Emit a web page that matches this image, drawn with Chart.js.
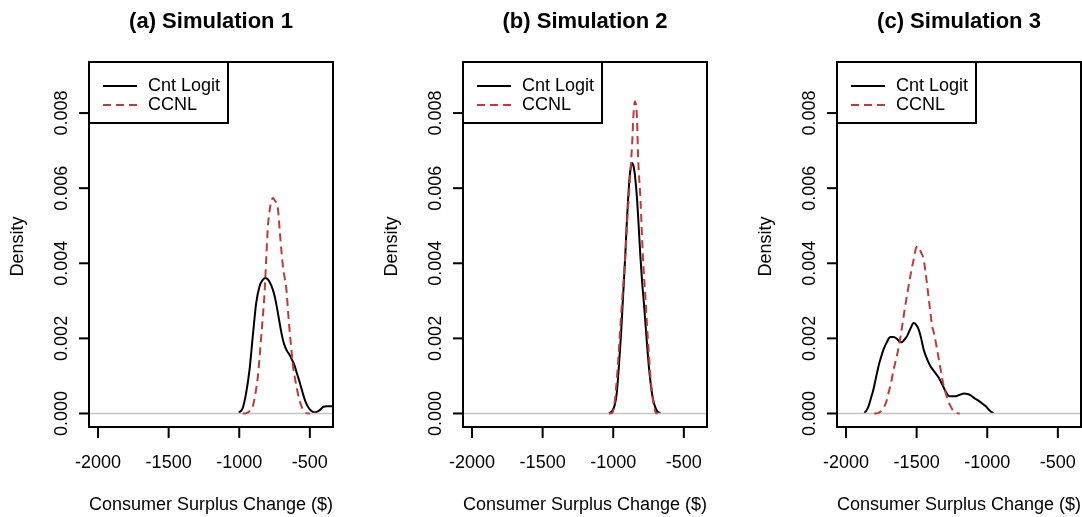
<!DOCTYPE html>
<html>
<head>
<meta charset="utf-8">
<script src="https://cdn.jsdelivr.net/npm/chart.js"></script>
<style>
  body { margin: 0; background: #fff; width: 1082px; height: 517px; overflow: hidden; position: relative; }
  canvas { position: absolute; top: 0; }
</style>
</head>
<body>
<canvas id="simA" width="374" height="517" style="left:0px"></canvas>
<canvas id="simB" width="374" height="517" style="left:374px"></canvas>
<canvas id="simC" width="374" height="517" style="left:748px"></canvas>

<script>
    // axis ticks, same for the three panels
    var xTicks = [-2000, -1500, -1000, -500];
    var yTicks = [0, 0.002, 0.004, 0.006, 0.008];
    var seriesNames = ['Cnt Logit', 'CCNL'];
    var panelTitles = ['(a) Simulation 1', '(b) Simulation 2', '(c) Simulation 3'];

    // density curves, [x, density]
    var logitA = [[-1003,0.00002],[-975,0.00015],[-951,0.00055],[-927,0.00117],[-904,0.00206],[-880,0.00294],
        [-856,0.00339],[-835,0.00355],[-816,0.00361],[-800,0.00358],[-785,0.00350],[-767,0.00335],[-749,0.00312],
        [-731,0.00278],[-714,0.00241],[-700,0.00212],[-685,0.00188],[-664,0.00168],[-642,0.00155],[-625,0.00142],
        [-607,0.00126],[-590,0.00105],[-571,0.00082],[-553,0.00058],[-536,0.00037],[-518,0.00021],[-500,0.00011],
        [-482,0.00005],[-465,0.00003],[-447,0.00005],[-429,0.00009],[-405,0.00018],[-380,0.00019],[-345,0.00019],[-320,0.00019]];
    var ccnlA = [[-975,0],[-951,0.00001],[-928,0.00006],[-904,0.00019],[-886,0.00052],[-868,0.00099],[-856,0.00150],
        [-844,0.00206],[-832,0.00262],[-820,0.00325],[-808,0.00420],[-797,0.00498],[-785,0.00540],[-773,0.00565],
        [-761,0.00574],[-749,0.00568],[-737,0.00560],[-726,0.00545],[-714,0.00490],[-702,0.00436],[-690,0.00390],
        [-678,0.00360],[-666,0.00330],[-654,0.00270],[-642,0.00215],[-630,0.00168],[-619,0.00126],[-607,0.00097],
        [-595,0.00073],[-577,0.00040],[-559,0.00019],[-541,0.00006],[-524,0.00001],[-500,0]];

    var logitB = [[-1031,0],[-1010,0.00005],[-990,0.00022],[-975,0.00055],[-960,0.00126],[-945,0.00210],[-935,0.00280],
        [-925,0.00348],[-915,0.00420],[-905,0.00500],[-895,0.00569],[-885,0.00625],[-875,0.00657],[-866,0.00667],
        [-857,0.00660],[-848,0.00640],[-840,0.00610],[-831,0.00569],[-820,0.00500],[-808,0.00420],[-795,0.00348],
        [-782,0.00290],[-770,0.00230],[-760,0.00180],[-748,0.00126],[-735,0.00080],[-725,0.00052],[-712,0.00028],
        [-695,0.00010],[-680,0.00003],[-665,0]];
    var ccnlB = [[-1030,0],[-1008,0.00001],[-990,0.00030],[-973,0.00099],[-955,0.00200],[-937,0.00303],[-913,0.00427],
        [-900,0.00520],[-885,0.00605],[-866,0.00720],[-856,0.00800],[-847,0.00831],[-838,0.00820],[-831,0.00780],
        [-824,0.00684],[-807,0.00569],[-790,0.00418],[-771,0.00303],[-760,0.00230],[-748,0.00161],[-737,0.00100],
        [-725,0.00055],[-712,0.00020],[-700,0.00003],[-685,0]];

    var logitC = [[-1870,0.00001],[-1855,0.00008],[-1841,0.00019],[-1824,0.00040],[-1806,0.00064],[-1788,0.00095],
        [-1770,0.00126],[-1752,0.00150],[-1735,0.00170],[-1711,0.00190],[-1687,0.00204],[-1664,0.00204],[-1640,0.00199],
        [-1622,0.00192],[-1604,0.00190],[-1586,0.00197],[-1568,0.00206],[-1545,0.00225],[-1521,0.00241],[-1503,0.00236],
        [-1485,0.00223],[-1468,0.00200],[-1450,0.00170],[-1426,0.00145],[-1402,0.00126],[-1372,0.00110],[-1343,0.00095],
        [-1325,0.00082],[-1307,0.00068],[-1289,0.00055],[-1271,0.00046],[-1247,0.00046],[-1224,0.00046],[-1194,0.00050],
        [-1164,0.00053],[-1140,0.00052],[-1117,0.00048],[-1088,0.00040],[-1058,0.00033],[-1034,0.00026],[-1010,0.00019],
        [-988,0.00010],[-967,0.00003],[-955,0]];
    var ccnlC = [[-1800,0],[-1775,0.00001],[-1755,0.00005],[-1734,0.00015],[-1716,0.00030],[-1699,0.00055],[-1681,0.00082],
        [-1663,0.00117],[-1645,0.00145],[-1628,0.00175],[-1610,0.00215],[-1592,0.00259],[-1575,0.00300],[-1557,0.00339],
        [-1538,0.00380],[-1521,0.00410],[-1505,0.00440],[-1490,0.00445],[-1470,0.00430],[-1450,0.00410],[-1435,0.00370],
        [-1419,0.00321],[-1403,0.00270],[-1390,0.00232],[-1378,0.00215],[-1355,0.00170],[-1330,0.00117],[-1312,0.00080],
        [-1295,0.00055],[-1277,0.00033],[-1259,0.00019],[-1240,0.00007],[-1212,0.00001],[-1195,0]];

    var FONT = '"Liberation Sans", Arial, sans-serif';
    var RED = '#c03a3a';
    var DASH = [8, 5];

    function pts(arr) {
        return arr.map(function (p) { return { x: p[0], y: p[1] }; });
    }

    function seg(ctx, x1, y1, x2, y2) {
        ctx.beginPath();
        ctx.moveTo(x1, y1);
        ctx.lineTo(x2, y2);
        ctx.stroke();
    }

    // R style frame: box, ticks, labels, titles and legend
    var rFrame = {
        id: 'rFrame',
        afterDraw: function (chart, args, opts) {
            var ctx = chart.ctx, a = chart.chartArea;
            var xs = chart.scales.x, ys = chart.scales.y;
            ctx.save();
            ctx.strokeStyle = '#000';
            ctx.fillStyle = '#000';
            ctx.lineWidth = 2;
            ctx.strokeRect(a.left, a.top, a.right - a.left, a.bottom - a.top);

            ctx.font = '18px ' + FONT;
            ctx.textAlign = 'center';
            ctx.textBaseline = 'middle';
            xTicks.forEach(function (v) {
                var px = xs.getPixelForValue(v);
                seg(ctx, px, a.bottom, px, a.bottom + 11);
                ctx.fillText(String(v), px, a.bottom + 36);
            });
            yTicks.forEach(function (v) {
                var py = ys.getPixelForValue(v);
                seg(ctx, a.left - 10, py, a.left, py);
                ctx.save();
                ctx.translate(a.left - 27, py);
                ctx.rotate(-Math.PI / 2);
                ctx.fillText(v.toFixed(3), 0, 0);
                ctx.restore();
            });

            var cx = (a.left + a.right) / 2;
            ctx.fillText('Consumer Surplus Change ($)', cx, a.bottom + 78);
            ctx.save();
            ctx.translate(a.left - 71, (a.top + a.bottom) / 2 + 2);
            ctx.rotate(-Math.PI / 2);
            ctx.fillText('Density', 0, 0);
            ctx.restore();

            ctx.font = 'bold 22px ' + FONT;
            ctx.fillText(opts.title, cx, 22);

            // legend
            ctx.strokeRect(a.left, a.top, 139, 61);
            ctx.font = '18px ' + FONT;
            ctx.textAlign = 'left';
            seg(ctx, a.left + 14, a.top + 24, a.left + 48, a.top + 24);
            ctx.fillText(seriesNames[0], a.left + 59, a.top + 24);
            ctx.strokeStyle = RED;
            ctx.setLineDash(DASH);
            seg(ctx, a.left + 14, a.top + 43, a.left + 48, a.top + 43);
            ctx.setLineDash([]);
            ctx.fillText(seriesNames[1], a.left + 59, a.top + 43);
            ctx.restore();
        }
    };

    function makePanel(id, title, logit, ccnl) {
        var ctx = document.getElementById(id).getContext('2d');
        return new Chart(ctx, {
            type: 'line',
            data: {
                datasets: [{
                    label: seriesNames[1],
                    data: pts(ccnl),
                    borderColor: RED,
                    borderDash: DASH,
                    borderWidth: 2
                }, {
                    label: 'zero',
                    data: [{ x: -2100, y: 0 }, { x: -300, y: 0 }],
                    borderColor: '#c4c4c4',
                    borderWidth: 1.5
                }, {
                    label: seriesNames[0],
                    data: pts(logit),
                    borderColor: '#000',
                    borderWidth: 2
                }]
            },
            options: {
                responsive: false,
                animation: false,
                devicePixelRatio: 1,
                layout: { padding: { left: 89, right: 41, top: 62, bottom: 90 } },
                elements: {
                    point: { radius: 0 },
                    line: { cubicInterpolationMode: 'monotone', fill: false }
                },
                scales: {
                    x: { type: 'linear', min: -2064, max: -336, display: false },
                    y: { type: 'linear', min: -0.00036, max: 0.00936, display: false }
                },
                plugins: {
                    legend: { display: false },
                    tooltip: { enabled: false },
                    rFrame: { title: title }
                }
            },
            plugins: [rFrame]
        });
    }

    makePanel('simA', panelTitles[0], logitA, ccnlA);
    makePanel('simB', panelTitles[1], logitB, ccnlB);
    makePanel('simC', panelTitles[2], logitC, ccnlC);
</script>
</body>
</html>
